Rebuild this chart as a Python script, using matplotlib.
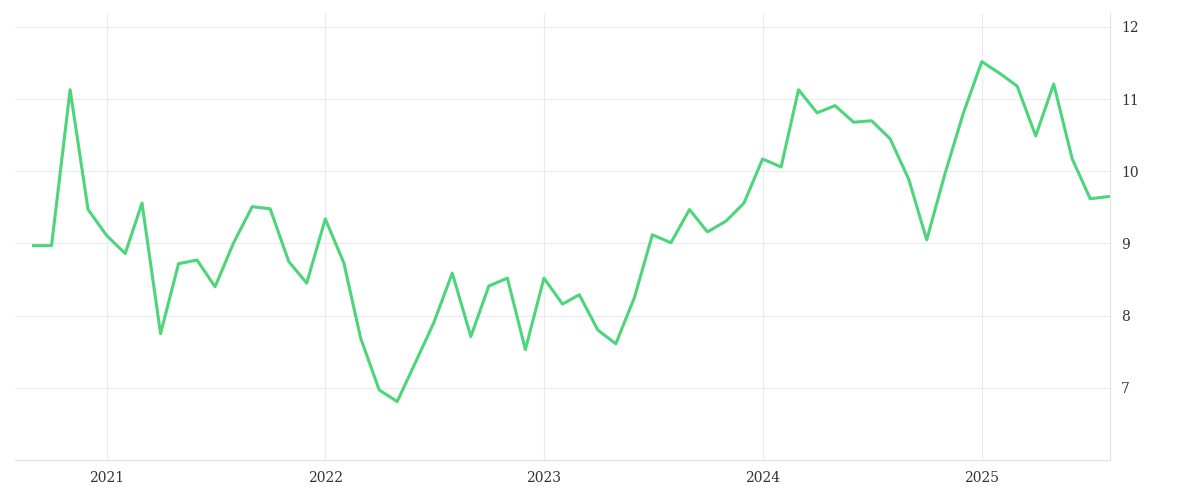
import matplotlib
matplotlib.use("Agg")
import matplotlib.pyplot as plt
import matplotlib.dates as mdates
import pandas as pd

dates = pd.date_range("2020-09-01", "2025-08-01", freq="MS")
values = [8.97, 8.97, 11.13, 9.47, 9.11, 8.86, 9.56, 7.75, 8.72, 8.77, 8.40, 9.01,
          9.51, 9.48, 8.75, 8.45, 9.34, 8.73, 7.69, 6.97, 6.81, 7.36, 7.90, 8.59,
          7.71, 8.41, 8.52, 7.53, 8.52, 8.16, 8.29, 7.80, 7.61, 8.25, 9.12, 9.01,
          9.47, 9.16, 9.31, 9.56, 10.17, 10.06, 11.13, 10.81, 10.91, 10.68, 10.70, 10.45,
          9.89, 9.05, 9.98, 10.80, 11.52, 11.35, 11.18, 10.49, 11.21, 10.17, 9.62, 9.65]
yticks = [7, 8, 9, 10, 11, 12]

fig = plt.figure(figsize=(12, 5), dpi=100)
ax = fig.add_axes([0.0125, 0.08, 0.9125, 0.895])
ax.plot(dates, values, color="#4cd57a", lw=2.2)
ax.set_xlim(pd.Timestamp("2020-08-01"), pd.Timestamp("2025-08-03"))
ax.set_ylim(6.0, 12.2)
ax.set_yticks(yticks)
ax.yaxis.tick_right()
ax.xaxis.set_major_locator(mdates.YearLocator())
ax.xaxis.set_major_formatter(mdates.DateFormatter("%Y"))
ax.grid(True, color="#ebebeb", lw=0.8)
for s in ["top", "left"]:
    ax.spines[s].set_visible(False)
for s in ["bottom", "right"]:
    ax.spines[s].set_color("#e0e0e0")
ax.tick_params(length=0, labelsize=10, colors="#333333", pad=8)
for lab in ax.get_xticklabels() + ax.get_yticklabels():
    lab.set_family("DejaVu Serif")
fig.savefig("out.png")
